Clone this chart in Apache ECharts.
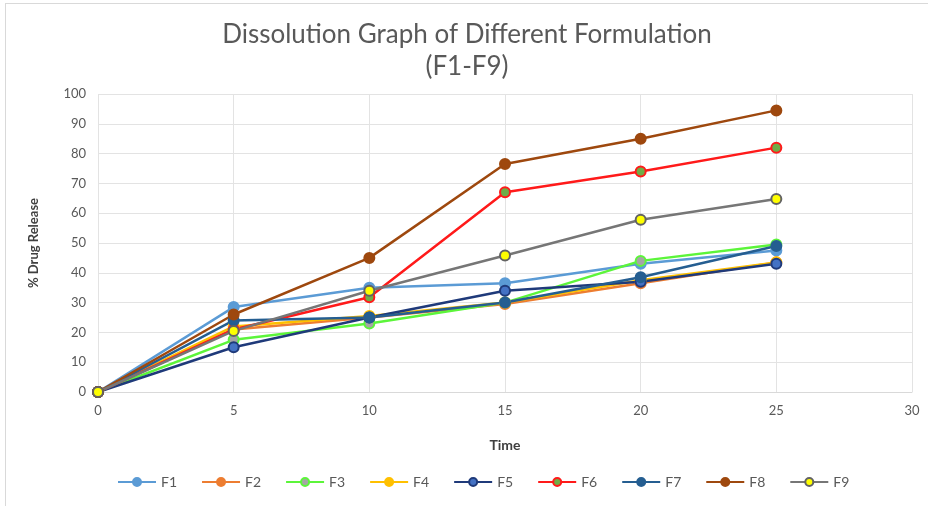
<!DOCTYPE html>
<html>
<head>
<meta charset="utf-8">
<script src="https://cdn.jsdelivr.net/npm/echarts@6/dist/echarts.min.js"></script>
<style>
  html, body { margin: 0; padding: 0; background: #fff; }
  #chart { position: absolute; left: 5px; top: 3px; width: 923px; height: 503px; border-left: 1px solid #d9d9d9; border-top: 1px solid #d9d9d9; box-sizing: border-box; }
</style>
</head>
<body>
<div id="chart"></div>
<script>
// time points (min)
const times = [0, 5, 10, 15, 20, 25]
// % drug release per formulation
const f1 = [0, 28.5, 35, 36.5, 43, 47.5]
const f2 = [0, 21, 25, 29.5, 36.5, 43.5]
const f3 = [0, 17.5, 23, 30, 44, 49.5]
const f4 = [0, 22, 25.5, 30, 37.5, 43.5]
const f5 = [0, 15, 25, 34, 37, 43]
const f6 = [0, 21, 31.8, 67, 74, 82]
const f7 = [0, 24, 25, 30, 38.5, 49]
const f8 = [0, 26, 45, 76.5, 85, 94.5]
const f9 = [0, 20.5, 34, 45.8, 57.8, 64.8]

const names = ['F1', 'F2', 'F3', 'F4', 'F5', 'F6', 'F7', 'F8', 'F9']
const values = [f1, f2, f3, f4, f5, f6, f7, f8, f9]
// line colour, marker fill, marker border
const styles = [
  ['#5b9bd5', '#5b9bd5', '#5b9bd5'],
  ['#ed7d31', '#ed7d31', '#ed7d31'],
  ['#5cf53a', '#a5a5a5', '#5cf53a'],
  ['#ffc000', '#ffc000', '#ffc000'],
  ['#1f3a7a', '#4472c4', '#1f3a7a'],
  ['#ff1a1a', '#70ad47', '#ff1a1a'],
  ['#255e91', '#255e91', '#255e91'],
  ['#9e480e', '#9e480e', '#9e480e'],
  ['#767676', '#ffff00', '#636363']
]

const font = 'Lato, "Open Sans", sans-serif'
const chart = echarts.init(document.getElementById('chart'))

chart.setOption({
  animation: false,
  title: {
    text: 'Dissolution Graph of Different Formulation\n(F1-F9)',
    left: 'center',
    top: 10,
    textStyle: { fontFamily: font, fontSize: 26, fontWeight: 'normal', color: '#595959', lineHeight: 32 }
  },
  grid: { left: 92, right: 16, top: 90, bottom: 114 },
  legend: {
    data: names,
    bottom: 12,
    left: 106,
    itemWidth: 38,
    itemHeight: 10,
    itemGap: 24,
    textStyle: { fontFamily: font, fontSize: 14, color: '#595959' }
  },
  xAxis: {
    type: 'value',
    min: 0,
    max: 30,
    interval: 5,
    name: 'Time',
    nameLocation: 'middle',
    nameGap: 46,
    nameTextStyle: { fontFamily: font, fontSize: 14, fontWeight: 'bold', color: '#404040' },
    axisLine: { lineStyle: { color: '#d9d9d9' } },
    axisTick: { show: false },
    axisLabel: { fontFamily: font, fontSize: 13, color: '#595959', margin: 12 },
    splitLine: { show: true, lineStyle: { color: '#e3e3e3' } }
  },
  yAxis: {
    type: 'value',
    min: 0,
    max: 100,
    interval: 10,
    name: '% Drug Release',
    nameLocation: 'middle',
    nameGap: 58,
    nameTextStyle: { fontFamily: font, fontSize: 13, fontWeight: 'bold', color: '#404040' },
    axisLine: { show: false },
    axisTick: { show: false },
    axisLabel: { fontFamily: font, fontSize: 13, color: '#595959', margin: 12 },
    splitLine: { lineStyle: { color: '#e3e3e3' } }
  },
  series: names.map((n, i) => ({
    name: n,
    type: 'line',
    data: times.map((t, j) => [t, values[i][j]]),
    symbol: 'circle',
    symbolSize: 10,
    lineStyle: { color: styles[i][0], width: 2.5 },
    itemStyle: { color: styles[i][1], borderColor: styles[i][2], borderWidth: 2 }
  }))
})
</script>
</body>
</html>
